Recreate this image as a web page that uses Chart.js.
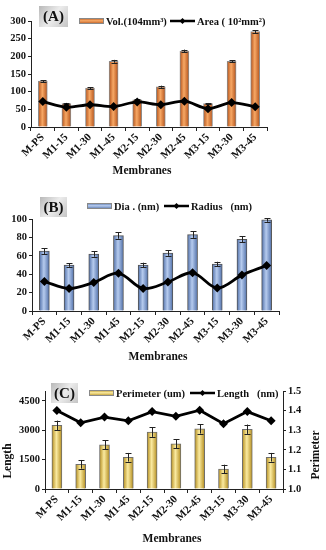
<!DOCTYPE html>
<html>
<head>
<meta charset="utf-8">
<script src="https://cdn.jsdelivr.net/npm/chart.js@4.4.1/dist/chart.umd.min.js"></script>
<style>
  html, body { margin: 0; padding: 0; background: #ffffff; }
  #wrap { position: relative; width: 326px; height: 550px; overflow: hidden; background: #fff; }
  .panel { position: absolute; left: 0; width: 326px; }
  canvas { display: block; }
</style>
</head>
<body>
<div id="wrap">
  <div class="panel" style="top:0px;height:180px"><canvas id="cA" width="326" height="180"></canvas></div>
  <div class="panel" style="top:180px;height:190px"><canvas id="cB" width="326" height="190"></canvas></div>
  <div class="panel" style="top:370px;height:180px"><canvas id="cC" width="326" height="180"></canvas></div>
</div>
<script>
// ---------------- DATA ----------------
const categories = ['M-PS', 'M1-15', 'M1-30', 'M1-45', 'M2-15', 'M2-30', 'M2-45', 'M3-15', 'M3-30', 'M3-45'];

// Panel A
const volA      = [130, 66, 110, 186, 77, 114, 215, 66, 186, 270];
const volErrA   = [3, 2, 3, 4, 2, 3, 4, 2, 3, 4];
const areaA     = [72, 56, 63, 58, 71, 63, 73, 52, 69, 57];
const ticksA    = [0, 50, 100, 150, 200, 250, 300];

// Panel B
const diaB      = [65, 50, 62, 82, 50, 63, 83, 51, 78, 99];
const diaErrB   = [3, 2, 3, 3.5, 2.5, 3, 3.5, 2.5, 3.5, 2];
const radiusB   = [32, 24.5, 31, 41, 24.5, 31.5, 41.5, 25, 39, 49.5];
const ticksB    = [0, 20, 40, 60, 80, 100];

// Panel C
const perimC    = [3250, 1260, 2250, 1620, 2900, 2300, 3070, 1020, 3050, 1620];
const perimErrC = [240, 220, 230, 220, 240, 230, 240, 220, 240, 220];
const lengthC   = [1.40, 1.338, 1.367, 1.348, 1.395, 1.371, 1.402, 1.333, 1.395, 1.348];
const ticksCLeft  = [0, 1500, 3000, 4500];
const ticksCRight = [1.0, 1.1, 1.2, 1.3, 1.4, 1.5];

// ---------------- HELPERS ----------------
const FONT = "'Liberation Serif', 'Times New Roman', serif";

function barGradient(colors, half) {
  return function (ctx) {
    const chart = ctx.chart;
    const xs = chart.scales.x;
    if (!chart.chartArea || !xs || ctx.dataIndex === undefined) return colors[1];
    const cx = xs.getPixelForValue(ctx.dataIndex);
    if (!isFinite(cx)) return colors[1];
    const g = chart.ctx.createLinearGradient(cx - half, 0, cx + half, 0);
    g.addColorStop(0, colors[0]);
    g.addColorStop(0.45, colors[2]);
    g.addColorStop(1, colors[0]);
    return g;
  };
}

const errorBarPlugin = {
  id: 'errorBars',
  afterDatasetDraw(chart, args, opts) {
    if (args.meta.type !== 'bar') return;
    const errs = opts.errors;
    if (!errs) return;
    const ys = chart.scales[args.meta.yAxisID];
    const vals = chart.data.datasets[args.index].data;
    const c = chart.ctx;
    c.save();
    c.strokeStyle = opts.color || '#222';
    c.lineWidth = 1;
    args.meta.data.forEach((el, i) => {
      const x = Math.round(el.x) + 0.5;
      const yTop = ys.getPixelForValue(vals[i] + errs[i]);
      const yBot = ys.getPixelForValue(vals[i] - errs[i]);
      const w = opts.cap || 3;
      c.beginPath();
      c.moveTo(x, yTop); c.lineTo(x, yBot);
      c.moveTo(x - w, Math.round(yTop) + 0.5); c.lineTo(x + w, Math.round(yTop) + 0.5);
      c.moveTo(x - w, Math.round(yBot) + 0.5); c.lineTo(x + w, Math.round(yBot) + 0.5);
      c.stroke();
    });
    c.restore();
  }
};

const decorPlugin = {
  id: 'decor',
  afterDraw(chart, args, o) {
    const c = chart.ctx;
    c.save();
    // panel label box
    const b = o.box;
    const g = c.createLinearGradient(b.x, b.y, b.x + b.w, b.y + b.h);
    g.addColorStop(0, '#b8b8b8');
    g.addColorStop(0.5, '#ececec');
    g.addColorStop(1, '#c4c4c4');
    c.fillStyle = g;
    c.fillRect(b.x, b.y, b.w, b.h);
    c.fillStyle = '#111';
    c.font = 'bold 15px ' + FONT;
    c.textAlign = 'center';
    c.textBaseline = 'middle';
    c.fillText(b.text, b.x + b.w / 2, b.y + b.h / 2 + 1);

    // legend
    const L = o.legend;
    c.font = 'bold 10.5px ' + FONT;
    c.textAlign = 'left';
    c.textBaseline = 'middle';
    // bar swatch
    const sg = c.createLinearGradient(0, L.y - 3, 0, L.y + 3);
    sg.addColorStop(0, L.colors[0]);
    sg.addColorStop(0.45, L.colors[2]);
    sg.addColorStop(1, L.colors[0]);
    c.fillStyle = sg;
    c.fillRect(L.barX, L.y - 3, 25, 6);
    c.strokeStyle = '#888';
    c.lineWidth = 1;
    c.strokeRect(L.barX + 0.5, L.y - 2.5, 24, 5);
    c.fillStyle = '#111';
    c.fillText(L.barText, L.barX + 27, L.y + 1);
    // line swatch
    c.strokeStyle = '#000';
    c.lineWidth = 2.5;
    c.beginPath();
    c.moveTo(L.lineX, L.y); c.lineTo(L.lineX + 25, L.y);
    c.stroke();
    c.fillStyle = '#000';
    c.beginPath();
    const mx = L.lineX + 12.5;
    c.moveTo(mx, L.y - 3); c.lineTo(mx + 3, L.y); c.lineTo(mx, L.y + 3); c.lineTo(mx - 3, L.y);
    c.closePath(); c.fill();
    c.fillStyle = '#111';
    c.fillText(L.lineText, L.lineX + 27, L.y + 1);

    // axis titles
    c.font = 'bold 11.5px ' + FONT;
    c.textAlign = 'center';
    c.textBaseline = 'middle';
    (o.titles || []).forEach(t => {
      c.save();
      c.translate(t.x, t.y);
      if (t.rot) c.rotate(t.rot);
      c.fillText(t.text, 0, 0);
      c.restore();
    });
    c.restore();
  }
};

function fixY(width, ticks) {
  return {
    afterFit(s) { s.width = width; s.paddingTop = 0; s.paddingBottom = 0; },
    afterBuildTicks(s) { s.ticks = ticks.map(v => ({ value: v })); }
  };
}
function fixX(height) {
  return {
    afterFit(s) { s.height = height; s.paddingLeft = 0; s.paddingRight = 0; }
  };
}

function xScale(height) {
  return Object.assign({
    type: 'category',
    offset: true,
    border: { display: true, color: '#222', width: 1 },
    grid: { display: true, drawOnChartArea: false, drawTicks: true, tickLength: 4, color: '#222', offset: true },
    ticks: { color: '#111', font: { family: FONT, weight: 'bold', size: 11 }, minRotation: 45, maxRotation: 45, autoSkip: false, padding: 0 }
  }, fixX(height));
}

function yScale(width, min, max, ticks, pos, fmt) {
  return Object.assign({
    position: pos || 'left',
    min: min, max: max,
    border: { display: true, color: '#222', width: 1 },
    grid: { display: true, drawOnChartArea: false, drawTicks: true, tickLength: 3, color: '#222' },
    ticks: { color: '#111', font: { family: FONT, weight: 'bold', size: 10.5 }, padding: 2,
             callback: fmt || (v => String(v)) }
  }, fixY(width, ticks));
}

Chart.defaults.animation = false;
Chart.defaults.font.family = FONT;

function makeChart(id, cfg) {
  return new Chart(document.getElementById(id), {
    type: 'bar',
    data: {
      labels: categories,
      datasets: [
        {
          type: 'line', label: cfg.lineLabel, data: cfg.lineData, yAxisID: cfg.lineAxis || 'y', order: 0,
          borderColor: '#000', borderWidth: 2.8, tension: cfg.tension,
          pointStyle: 'rectRot', pointRadius: 4.5, pointBackgroundColor: '#000', pointBorderColor: '#000', pointBorderWidth: 0
        },
        {
          type: 'bar', label: cfg.barLabel, data: cfg.barData, yAxisID: 'y', order: 1,
          backgroundColor: barGradient(cfg.colors, cfg.barW / 2), borderColor: cfg.border, borderWidth: 1,
          barThickness: cfg.barW
        }
      ]
    },
    options: {
      responsive: false,
      maintainAspectRatio: false,
      animation: false,
      layout: { padding: cfg.padding },
      plugins: {
        legend: { display: false },
        tooltip: { enabled: false },
        errorBars: { errors: cfg.errors, cap: 3, color: '#222' },
        decor: cfg.decor
      },
      scales: cfg.scales
    },
    plugins: [errorBarPlugin, decorPlugin]
  });
}

const orange = ['#b4521a', '#e57f2e', '#f7a865'];
const blue   = ['#4f6fa9', '#7d9bd2', '#b6cbee'];
const gold   = ['#b48d1d', '#dcb63e', '#faeaa0'];

// Panel A
makeChart('cA', {
  lineLabel: 'Area ( 10²mm²)', lineData: areaA, tension: 0.3,
  barLabel: 'Vol.(104mm³)', barData: volA, errors: volErrA, colors: orange, border: '#8c8c8c', barW: 9,
  padding: { left: 0, right: 59, top: 21, bottom: 0 },
  scales: { x: xScale(53), y: yScale(31, 0, 300, ticksA) },
  decor: {
    box: { x: 39, y: 6, w: 29, h: 21, text: '(A)' },
    legend: { y: 21, barX: 79, lineX: 170, colors: orange, barText: 'Vol.(104mm³)', lineText: 'Area ( 10²mm²)' },
    titles: [{ text: 'Membranes', x: 142, y: 171 }]
  }
});

// Panel B
makeChart('cB', {
  lineLabel: 'Radius   (nm)', lineData: radiusB, tension: 0.35,
  barLabel: 'Dia . (nm)', barData: diaB, errors: diaErrB, colors: blue, border: '#555', barW: 10,
  padding: { left: 0, right: 47, top: 39, bottom: 0 },
  scales: { x: xScale(59), y: yScale(32, 0, 100, ticksB) },
  decor: {
    box: { x: 40, y: 17, w: 27, h: 20, text: '(B)' },
    legend: { y: 26, barX: 87, lineX: 164, colors: blue, barText: 'Dia . (nm)', lineText: 'Radius   (nm)' },
    titles: [{ text: 'Membranes', x: 158, y: 177 }]
  }
});

// Panel C
makeChart('cC', {
  lineLabel: 'Length   (nm)', lineData: lengthC, lineAxis: 'y1', tension: 0,
  barLabel: 'Perimeter (um)', barData: perimC, errors: perimErrC, colors: gold, border: '#6e6e6e', barW: 10,
  padding: { left: 0, right: 0, top: 21, bottom: 0 },
  scales: {
    x: xScale(61),
    y: yScale(45, 0, 5000, ticksCLeft),
    y1: yScale(43, 1.0, 1.5, ticksCRight, 'right', v => Number(v).toFixed(1))
  },
  decor: {
    box: { x: 51, y: 13, w: 27, h: 20, text: '(C)' },
    legend: { y: 23, barX: 89, lineX: 190, colors: gold, barText: 'Perimeter (um)', lineText: 'Length   (nm)' },
    titles: [
      { text: 'Membranes', x: 172, y: 169 },
      { text: 'Length', x: 8, y: 91, rot: -Math.PI / 2 },
      { text: 'Perimeter', x: 316, y: 85, rot: -Math.PI / 2 }
    ]
  }
});
</script>
</body>
</html>
